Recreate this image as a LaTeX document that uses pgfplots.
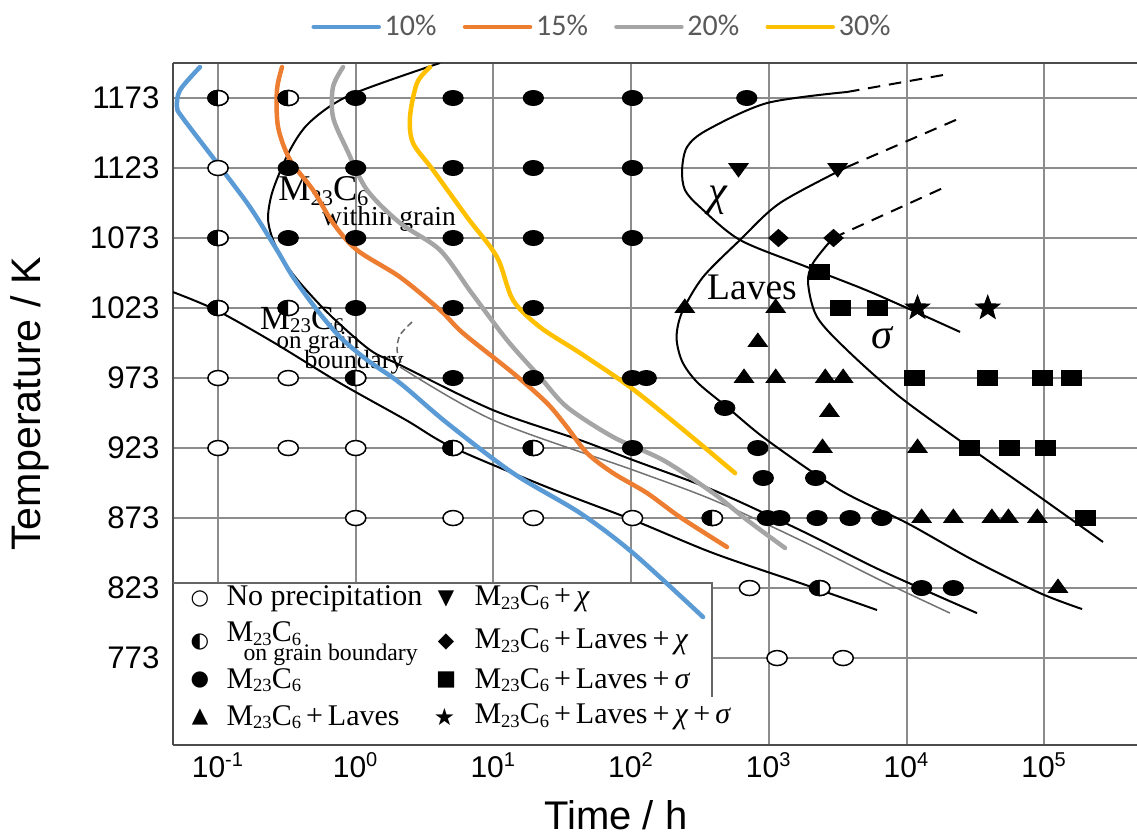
\documentclass[border=0pt]{standalone}
\usepackage{fontspec}
\setmainfont{Liberation Serif}
\newfontfamily\arialf{Liberation Sans}
\newfontfamily\calf{Carlito}
\newfontfamily\symf{DejaVu Sans}
\usepackage{graphicx}
\usepackage{pgfplots}
\pgfplotsset{compat=1.18}
\usetikzlibrary{plotmarks}
\definecolor{c10}{HTML}{5B9BD5}
\definecolor{c15}{HTML}{ED7D31}
\definecolor{c20}{HTML}{A5A5A5}
\definecolor{c30}{HTML}{FFC000}
\definecolor{legtext}{HTML}{595959}
\pgfdeclareplotmark{fstar}{%
  \pgfpathmoveto{\pgfpointpolar{90}{\pgfplotmarksize}}%
  \pgfpathlineto{\pgfpointpolar{126}{0.42\pgfplotmarksize}}%
  \pgfpathlineto{\pgfpointpolar{162}{\pgfplotmarksize}}%
  \pgfpathlineto{\pgfpointpolar{198}{0.42\pgfplotmarksize}}%
  \pgfpathlineto{\pgfpointpolar{234}{\pgfplotmarksize}}%
  \pgfpathlineto{\pgfpointpolar{270}{0.42\pgfplotmarksize}}%
  \pgfpathlineto{\pgfpointpolar{306}{\pgfplotmarksize}}%
  \pgfpathlineto{\pgfpointpolar{342}{0.42\pgfplotmarksize}}%
  \pgfpathlineto{\pgfpointpolar{18}{\pgfplotmarksize}}%
  \pgfpathlineto{\pgfpointpolar{54}{0.42\pgfplotmarksize}}%
  \pgfpathclose
  \pgfusepathqfillstroke}
\newcommand{\sbs}[1]{\raisebox{-0.25ex}{\scalebox{0.62}{#1}}}
\newcommand{\Mc}{M\sbs{23}C\sbs{6}}
\pgfplotsset{
  blk/.style={forget plot, smooth, black, line width=0.8pt},
  blkd/.style={forget plot, black, line width=0.8pt, dash pattern=on 5pt off 3.5pt},
  mfull/.style={forget plot, only marks, mark=*, mark size=3pt, mark options={xscale=1.35, fill=black, draw=black, solid}},
  mopen/.style={forget plot, only marks, mark=*, mark size=3pt, mark options={xscale=1.35, fill=white, draw=black, line width=0.6pt, solid}},
  mhalf/.style={forget plot, only marks, mark=halfcircle*, mark size=3pt, mark options={xscale=1.35, rotate=90, fill=black, draw=black, line width=0.6pt, solid}},
  mtri/.style={forget plot, only marks, mark=triangle*, mark size=4.4pt, mark options={yscale=0.8, fill=black, draw=black, solid}},
  mtrid/.style={forget plot, only marks, mark=triangle*, mark size=4.4pt, mark options={yscale=0.8, rotate=180, fill=black, draw=black, solid}},
  mdia/.style={forget plot, only marks, mark=diamond*, mark size=3.4pt, mark options={xscale=1.5, fill=black, draw=black, solid}},
  msq/.style={forget plot, only marks, mark=square*, mark size=3pt, mark options={xscale=1.33, fill=black, draw=black, solid}},
  mstar/.style={forget plot, only marks, mark=fstar, mark size=5pt, mark options={fill=black, draw=black, solid}},
  cc/.style={smooth, line width=1.8pt, line cap=round, line join=round},
}
\begin{document}
\begin{tikzpicture}
\useasboundingbox (0,0) rectangle (454.8pt,335.2pt);
\begin{axis}[
  at={(69.2pt,37.2pt)}, anchor=south west,
  scale only axis, width=385.6pt, height=272.8pt,
  xmin=-1.327, xmax=5.674, ymin=710.9, ymax=1198,
  axis x line*=box, axis y line*=left,
  axis line style={black!70, line width=1pt},
  xtick={-1,0,1,2,3,4,5},
  xticklabels={10\textsuperscript{-1},10\textsuperscript{0},10\textsuperscript{1},10\textsuperscript{2},10\textsuperscript{3},10\textsuperscript{4},10\textsuperscript{5}},
  ytick={773,823,873,923,973,1023,1073,1123,1173},
  grid=major, grid style={black!45, line width=0.8pt},
  major tick length=0pt,
  /pgf/number format/1000 sep={},
  /pgf/number format/assume math mode=true,
  xticklabel style={font=\arialf\fontsize{12}{12}\selectfont, anchor=base, yshift=-12.8pt},
  yticklabel style={font=\arialf\fontsize{12.5}{13}\selectfont, anchor=east, inner sep=0pt, xshift=-5.2pt},
  xlabel={Time / h}, ylabel={Temperature / K},
  xlabel style={font=\arialf\fontsize{16}{18}\selectfont, at={(axis description cs:0.4595,-0.1026)}, anchor=center},
  ylabel style={font=\arialf\fontsize{16.5}{18}\selectfont, at={(axis description cs:-0.1483,0.5)}, anchor=center},
  legend columns=4,
  legend style={at={(axis description cs:0.446,1.053)}, anchor=center, draw=none, fill=none,
    font=\calf\fontsize{12}{14}\selectfont, text=legtext, inner xsep=1pt,
    /tikz/every even column/.append style={column sep=9pt},
    nodes={inner xsep=1.5pt}},
  legend image code/.code={\draw[#1, line width=1.8pt, line cap=round] (0pt,0pt) -- (26pt,0pt);},
]
% original TTP curves
\addplot[blk] coordinates {(0.612,1198.0) (-0.041,1175.1) (-0.332,1155.9) (-0.477,1135.9) (-0.601,1107.3) (-0.637,1088.0) (-0.608,1073.7) (-0.528,1057.3) (-0.404,1040.9) (-0.187,1018.0) (0.104,993.0) (0.322,982.3) (0.997,950.1) (1.629,928.7) (2.014,914.4) (2.595,893.0) (3.227,864.4) (3.808,835.9) (4.512,805.1)};
\addplot[forget plot, smooth, black!55, line width=0.6pt] coordinates {(0.322,980.9) (0.997,943.0) (2.014,907.3) (2.595,885.9) (3.227,857.3) (3.808,828.7) (4.316,805.1)};
\addplot[blk] coordinates {(-1.327,1034.4) (-1.015,1021.6) (-0.601,998.7) (-0.114,969.4) (0.365,943.0) (0.699,923.7) (1.389,895.1) (2.014,871.6) (2.595,848.0) (3.227,826.6) (3.786,807.3)};
\addplot[forget plot, smooth, black!60, line width=0.6pt, dash pattern=on 2.5pt off 1.5pt] coordinates {(0.409,1013.0) (0.322,1003.7) (0.300,993.0) (0.336,982.3)};
% chi
\addplot[blk] coordinates {(3.568,1177.3) (2.987,1169.4) (2.551,1150.1) (2.406,1138.0) (2.370,1121.6) (2.391,1107.3) (2.500,1095.1) (2.791,1071.6) (3.277,1052.3) (3.757,1033.7) (4.389,1005.9)};
\addplot[blkd] coordinates {(3.568,1177.3) (4.265,1189.4)};
% Laves
\addplot[blk] coordinates {(3.568,1123.7) (3.081,1098.0) (2.791,1071.6) (2.522,1045.1) (2.370,1020.0) (2.330,1002.0) (2.370,985.0) (2.480,970.0) (2.700,952.0) (2.987,928.7) (3.517,893.0) (4.004,869.4) (4.483,843.0) (4.969,819.4) (5.275,808.0)};
\addplot[blkd] coordinates {(3.568,1123.7) (4.374,1158.0)};
% sigma
\addplot[blk] coordinates {(3.466,1073.0) (3.321,1055.1) (3.285,1040.9) (3.350,1016.6) (3.568,993.0) (3.953,959.4) (4.483,921.6) (4.969,888.0) (5.427,855.9)};
\addplot[blkd] coordinates {(3.466,1073.0) (4.280,1109.4)};
% markers
\addplot[mfull] coordinates {(0.0,1173)(0.707,1173)(1.29,1173)(2.01,1173)(2.84,1173)
 (-0.49,1123)(0.0,1123)(0.707,1123)(1.29,1123)(2.01,1123)
 (-0.49,1073)(0.0,1073)(0.707,1073)(1.29,1073)(2.01,1073)
 (0.0,1023)(0.707,1023)(1.29,1023)
 (0.707,973)(1.29,973)(2.01,973)(2.11,973)
 (2.68,951.6)(2.01,923)(2.92,923)(2.96,901.6)(3.34,901.6)
 (2.99,873)(3.08,873)(3.35,873)(3.59,873)(3.82,873)
 (4.11,823)(4.34,823)};
\addplot[mopen] coordinates {(-1.0,1123)(-1.0,973)(-0.49,973)(-1.0,923)(-0.49,923)(0.0,923)
 (0.0,873)(0.707,873)(1.29,873)(2.01,873)(2.86,823)(3.06,773)(3.54,773)
 (-1.0,1173)(-0.49,1173)(-1.0,1073)(-1.0,1023)(-0.49,1023)(0.0,973)(0.707,923)(1.29,923)(2.59,873)(3.37,823)};
\addplot[mhalf] coordinates {(-1.0,1173)(-0.49,1173)(-1.0,1073)(-1.0,1023)(-0.49,1023)(0.0,973)(0.707,923)(1.29,923)(2.59,873)(3.37,823)};
\addplot[mtrid] coordinates {(2.78,1123)(3.50,1123)};
\addplot[mdia] coordinates {(3.07,1073)(3.47,1073)};
\addplot[msq] coordinates {(3.37,1048.7)(3.52,1023)(3.79,1023)(4.06,973)(4.59,973)(4.99,973)(5.20,973)(4.46,923)(4.75,923)(5.01,923)(5.30,873)};
\addplot[mtri] coordinates {(2.39,1023)(3.05,1023)(2.92,998.7)(2.82,973)(3.05,973)(3.41,973)(3.54,973)(3.44,948.7)(3.39,923)(4.08,923)(4.11,873)(4.34,873)(4.62,873)(4.74,873)(4.95,873)(5.10,823)};
\addplot[mstar] coordinates {(4.08,1023)(4.59,1023)};
% annotations
\node[font=\fontsize{14.5}{15}\selectfont] at (axis cs:-0.235,1106.5) {\Mc};
\node[font=\fontsize{11}{12}\selectfont] at (axis cs:0.242,1086.6) {within grain};
\node[font=\fontsize{13.5}{15}\selectfont] at (axis cs:-0.39,1014.5) {\Mc};
\node[font=\fontsize{10}{12}\selectfont] at (axis cs:-0.274,997.8) {on grain};
\node[font=\fontsize{10.5}{12}\selectfont] at (axis cs:-0.012,984.6) {boundary};
\node[font=\fontsize{17}{18}\selectfont\itshape] at (axis cs:2.631,1100.1) {χ};
\node[font=\fontsize{15}{16}\selectfont] at (axis cs:2.878,1038) {Laves};
\node[font=\fontsize{17}{18}\selectfont\itshape] at (axis cs:3.822,1001.6) {σ};
% inner legend box
\fill[white] (axis cs:-1.318,711.8) rectangle (axis cs:2.588,826.6);
\draw[black!60, line width=0.8pt] (axis cs:-1.327,826.6) -- (axis cs:2.588,826.6) -- (axis cs:2.588,745.1);
\node[font=\symf\fontsize{8.5}{9}\selectfont] at (axis cs:-1.131,815.1) {○};
\node[font=\symf\fontsize{8.5}{9}\selectfont] at (axis cs:-1.131,784.5) {◐};
\node[font=\symf\fontsize{8.5}{9}\selectfont] at (axis cs:-1.131,757.3) {●};
\node[font=\symf\fontsize{8.5}{9}\selectfont] at (axis cs:-1.131,730.9) {▲};
\node[font=\symf\fontsize{8.5}{9}\selectfont] at (axis cs:0.656,815.1) {▼};
\node[font=\symf\fontsize{8.5}{9}\selectfont] at (axis cs:0.656,784.5) {◆};
\node[font=\symf\fontsize{8.5}{9}\selectfont] at (axis cs:0.656,757.3) {■};
\node[font=\symf\fontsize{9.5}{10}\selectfont] at (axis cs:0.645,730.9) {★};
\node[anchor=west, inner sep=0pt, font=\fontsize{12}{14}\selectfont] at (axis cs:-0.942,815.1) {No precipitation};
\node[anchor=west, inner sep=0pt, font=\fontsize{12}{14}\selectfont] at (axis cs:-0.942,790.5) {\Mc};
\node[anchor=west, inner sep=0pt, font=\fontsize{9.5}{10}\selectfont] at (axis cs:-0.818,775.5) {on grain boundary};
\node[anchor=west, inner sep=0pt, font=\fontsize{12}{14}\selectfont] at (axis cs:-0.942,757.3) {\Mc};
\node[anchor=west, inner sep=0pt, font=\fontsize{12}{14}\selectfont] at (axis cs:-0.942,730.9) {\Mc\,+\,Laves};
\node[anchor=west, inner sep=0pt, font=\fontsize{12}{14}\selectfont] at (axis cs:0.859,815.1) {\Mc\,+\,\textit{χ}};
\node[anchor=west, inner sep=0pt, font=\fontsize{12}{14}\selectfont] at (axis cs:0.859,784.5) {\Mc\,+\,Laves\,+\,\textit{χ}};
\node[anchor=west, inner sep=0pt, font=\fontsize{12}{14}\selectfont] at (axis cs:0.859,757.3) {\Mc\,+\,Laves\,+\,\textit{σ}};
\node[anchor=west, inner sep=0pt, font=\fontsize{12}{14}\selectfont] at (axis cs:0.859,730.9) {\Mc\,+\,Laves\,+\,\textit{χ}\,+\,\textit{σ}};
% overlay curves
\addplot[cc, c10] coordinates {(-1.131,1195.1) (-1.276,1178.7) (-1.298,1166.6) (-1.261,1159.4) (-1.007,1126.6) (-0.768,1095.1) (-0.572,1064.4) (-0.455,1045.1) (-0.281,1021.6) (-0.114,1002.3) (0.082,985.9) (0.322,969.4) (0.663,940.9) (1.142,905.1) (1.629,876.6) (2.014,848.0) (2.522,802.3)};
\addlegendentry{10\%}
\addplot[cc, c15] coordinates {(-0.535,1195.1) (-0.572,1178.7) (-0.564,1152.3) (-0.477,1128.7) (-0.310,1107.3) (-0.165,1083.7) (0.009,1064.4) (0.322,1045.1) (0.612,1021.6) (0.779,1005.1) (1.142,976.6) (1.389,955.1) (1.534,938.0) (1.680,919.4) (1.869,905.1) (2.115,890.9) (2.355,873.7) (2.696,852.3)};
\addlegendentry{15\%}
\addplot[cc, c20] coordinates {(-0.092,1195.1) (-0.165,1180.9) (-0.165,1159.4) (-0.063,1135.9) (0.082,1107.3) (0.322,1083.7) (0.612,1064.4) (0.840,1034.0) (1.099,1000.1) (1.338,973.7) (1.534,952.3) (1.869,930.9) (2.232,914.4) (2.595,890.9) (2.842,871.6) (3.118,851.6)};
\addlegendentry{20\%}
\addplot[cc, c30] coordinates {(0.540,1195.1) (0.445,1183.7) (0.394,1159.4) (0.416,1140.9) (0.561,1121.6) (0.808,1088.0) (1.026,1059.4) (1.142,1028.7) (1.338,1009.4) (1.629,990.9) (1.992,966.6) (2.355,938.0) (2.755,905.1)};
\addlegendentry{30\%}
\end{axis}
\end{tikzpicture}
\end{document}
